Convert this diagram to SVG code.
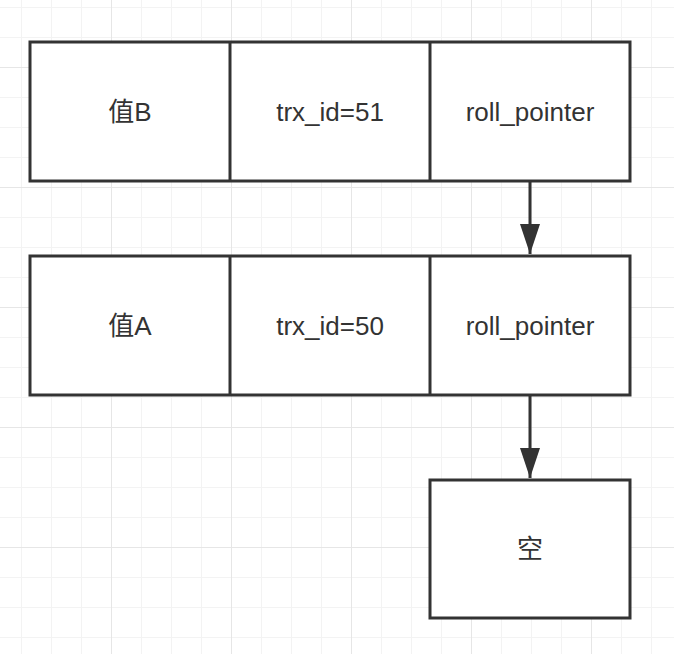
<svg xmlns="http://www.w3.org/2000/svg" width="674" height="654" viewBox="0 0 674 654">
<defs>
<pattern id="minor" width="30" height="30" patternUnits="userSpaceOnUse" x="21" y="7">
<path d="M0.5 0V30M0 0.5H30" fill="none" stroke="#f3f3f3" stroke-width="1"/>
</pattern>
<pattern id="major" width="120" height="120" patternUnits="userSpaceOnUse" x="111" y="67">
<path d="M0.5 0V120M0 0.5H120" fill="none" stroke="#e6e6e6" stroke-width="1"/>
</pattern>
<marker id="arrow" markerUnits="userSpaceOnUse" markerWidth="30" markerHeight="20" refX="30" refY="10" orient="auto" viewBox="0 0 30 20">
<path d="M0 0L30 10L0 20Z" fill="#333"/>
</marker>
</defs>
<style>
.box{fill:#fff;stroke:#333;stroke-width:3}
.div{stroke:#333;stroke-width:3}
.lbl{font-family:"Liberation Sans","Noto Sans CJK SC",sans-serif;font-size:26px;fill:#333;text-anchor:middle}
.edge{stroke:#333;stroke-width:3;fill:none}
</style>
<rect width="674" height="654" fill="#fff"/>
<rect width="674" height="654" fill="url(#minor)"/>
<rect width="674" height="654" fill="url(#major)"/>
<g id="row1">
<rect class="box" x="30" y="42" width="600" height="139"/>
<line class="div" x1="230" y1="42" x2="230" y2="181"/>
<line class="div" x1="430" y1="42" x2="430" y2="181"/>
<text class="lbl" x="130" y="121">值B</text>
<text class="lbl" x="330" y="121">trx_id=51</text>
<text class="lbl" x="530" y="121">roll_pointer</text>
</g>
<g id="row2">
<rect class="box" x="30" y="256" width="600" height="139"/>
<line class="div" x1="230" y1="256" x2="230" y2="395"/>
<line class="div" x1="430" y1="256" x2="430" y2="395"/>
<text class="lbl" x="130" y="335">值A</text>
<text class="lbl" x="330" y="335">trx_id=50</text>
<text class="lbl" x="530" y="335">roll_pointer</text>
</g>
<g id="empty">
<rect class="box" x="430" y="480" width="200" height="138"/>
<text class="lbl" x="530" y="558">空</text>
</g>
<g id="connectors">
<line class="edge" x1="530" y1="181" x2="530" y2="254" marker-end="url(#arrow)"/>
<line class="edge" x1="530" y1="395" x2="530" y2="478" marker-end="url(#arrow)"/>
</g>
</svg>
